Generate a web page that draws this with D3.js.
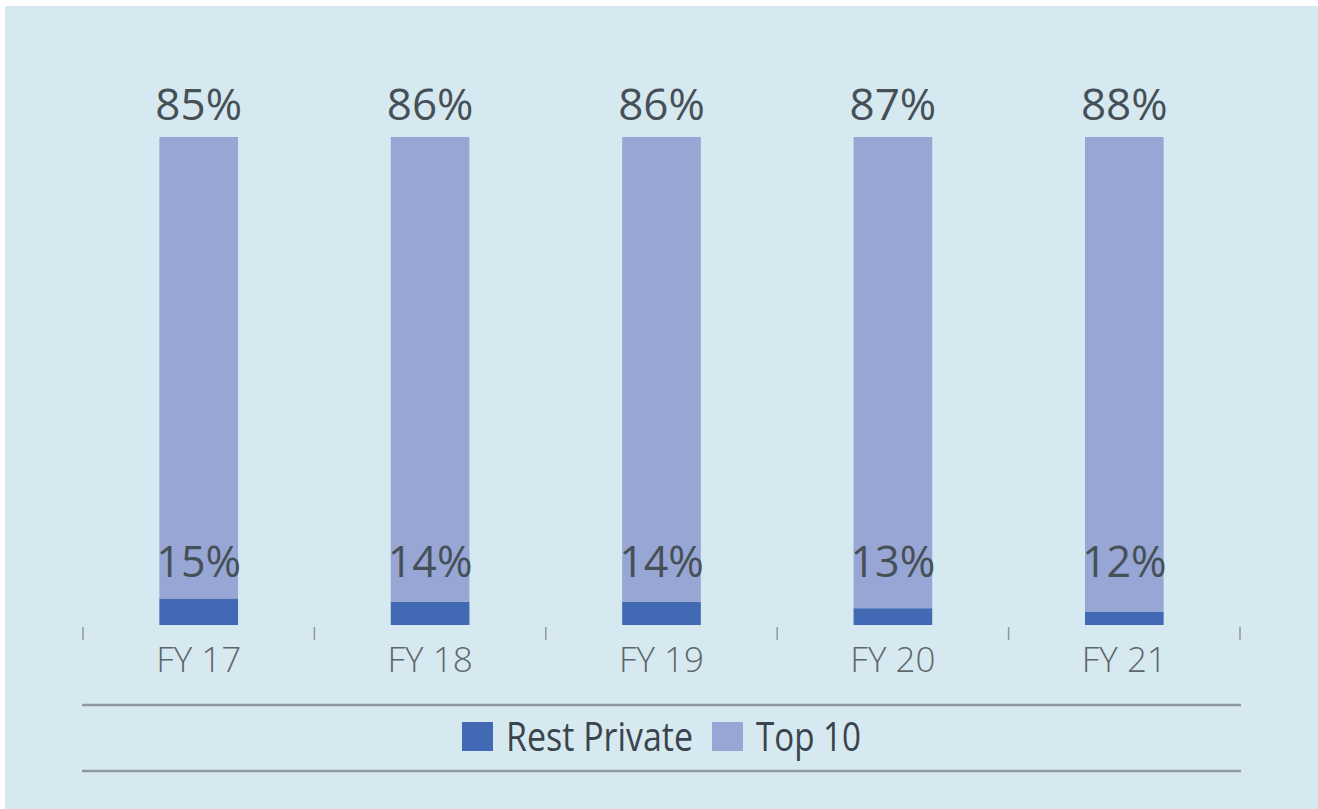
<!DOCTYPE html>
<html>
<head>
<meta charset="utf-8">
<script src="https://cdn.jsdelivr.net/npm/d3@7"></script>
<style>
  html, body { margin: 0; padding: 0; background: #fff; }
  svg { display: block; }
  text { font-family: "Open Sans", "DejaVu Sans", sans-serif; }
</style>
</head>
<body>
<svg id="chart"></svg>
<script>
var years = ["FY 17", "FY 18", "FY 19", "FY 20", "FY 21"];
var restPrivate = [14.9, 14.3, 14.3, 13.1, 12.4];
var top10 = [85.1, 85.7, 85.7, 86.9, 87.6];
var seriesNames = ["Rest Private", "Top 10"];
var colors = ["#4169b4", "#97a6d4"];

var W = 1318, H = 809;
var svg = d3.select("#chart").attr("width", W).attr("height", H);

// panel background
svg.append("rect")
  .attr("x", 5).attr("y", 6)
  .attr("width", W - 5).attr("height", H - 6)
  .attr("fill", "#d6e9f1");

var rows = years.map(function (y, i) {
  return {year: y, rest: restPrivate[i], top: top10[i]};
});

var x = d3.scaleBand().domain(years).range([83, 1240]).paddingInner(0.66).paddingOuter(0.33);
// value axis starts at 10%, as in the original
var y = d3.scaleLinear().domain([10, 100]).range([625, 137]).clamp(true);

var layers = d3.stack().keys(["rest", "top"])(rows);

svg.append("g").selectAll("g")
  .data(layers)
  .join("g")
  .attr("fill", function (d, i) { return colors[i]; })
  .selectAll("rect")
  .data(function (d) { return d; })
  .join("rect")
  .attr("x", function (d) { return x(d.data.year); })
  .attr("width", x.bandwidth())
  .attr("y", function (d) { return y(d[1]); })
  .attr("height", function (d) { return y(d[0]) - y(d[1]); });

var fmt = function (v) { return Math.round(v) + "%"; };
var cx = function (d) { return x(d.year) + x.bandwidth() / 2; };

// top labels
svg.append("g").selectAll("text")
  .data(rows)
  .join("text")
  .attr("x", cx)
  .attr("y", y(100) - 17)
  .attr("text-anchor", "middle")
  .attr("font-size", 44)
  .attr("fill", "#465057")
  .text(function (d) { return fmt(d.top); });

// rest labels
svg.append("g").selectAll("text")
  .data(rows)
  .join("text")
  .attr("x", cx)
  .attr("y", y(10) - 48)
  .attr("text-anchor", "middle")
  .attr("font-size", 43)
  .attr("fill", "#465057")
  .text(function (d) { return fmt(d.rest); });

// category axis: ticks between categories
var tickPos = d3.range(years.length + 1).map(function (i) { return 83 + i * (1240 - 83) / years.length; });
svg.append("g").selectAll("line")
  .data(tickPos)
  .join("line")
  .attr("x1", function (d) { return d; }).attr("x2", function (d) { return d; })
  .attr("y1", 627).attr("y2", 640)
  .attr("stroke", "#8f989d").attr("stroke-width", 1.5);

svg.append("g").selectAll("text")
  .data(years)
  .join("text")
  .attr("x", function (d) { return x(d) + x.bandwidth() / 2; })
  .attr("y", 672)
  .attr("text-anchor", "middle")
  .attr("font-size", 35)
  .attr("font-weight", 300)
  .attr("fill", "#5f676c")
  .text(function (d) { return d; });

// legend frame lines
[705, 771].forEach(function (ly) {
  svg.append("line")
    .attr("x1", 82).attr("x2", 1241)
    .attr("y1", ly).attr("y2", ly)
    .attr("stroke", "#8e999e").attr("stroke-width", 2.5);
});

var legend = svg.append("g");
var lx = [462, 712];
var lw = [187, 105];
seriesNames.forEach(function (name, i) {
  legend.append("rect")
    .attr("x", lx[i]).attr("y", 722)
    .attr("width", 31).attr("height", 29)
    .attr("fill", colors[i]);
  legend.append("text")
    .attr("x", lx[i] + 44).attr("y", 751)
    .attr("font-size", 40)
    .attr("fill", "#3a444a")
    .attr("textLength", lw[i])
    .attr("lengthAdjust", "spacingAndGlyphs")
    .text(name);
});
</script>
</body>
</html>
